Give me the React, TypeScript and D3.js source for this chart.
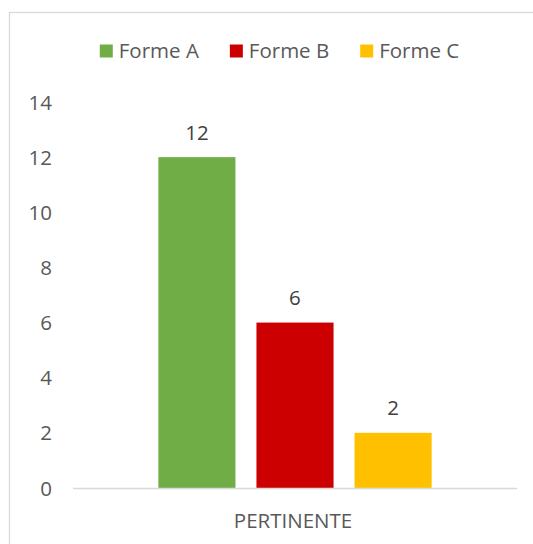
import React, { useMemo } from "react";
import * as d3 from "d3";

const categories = ["PERTINENTE"];
const seriesNames = ["Forme A", "Forme B", "Forme C"];
const seriesValues = [[12], [6], [2]];
const seriesColors = ["#70AD47", "#CC0000", "#FFC000"];
const yTicks = [0, 2, 4, 6, 8, 10, 12, 14];

const W = 533;
const H = 544;
const FONT = "'Open Sans', 'Noto Sans', sans-serif";
const FS = 20.5;

function measure(text: string): number {
  const c = document.createElement("canvas");
  const ctx = c.getContext("2d");
  if (!ctx) return text.length * 11;
  ctx.font = `${FS}px 'Open Sans'`;
  return ctx.measureText(text).width;
}

export default function App() {
  const x0 = d3.scaleBand<string>().domain(categories).range([73, 517]).padding(0.238);
  const x1 = d3
    .scaleBand<string>()
    .domain(seriesNames)
    .range([0, x0.bandwidth()])
    .paddingInner(0.214)
    .paddingOuter(0);
  const y = d3.scaleLinear().domain([0, 14]).range([488, 102]);

  const legend = useMemo(() => {
    const sq = 13;
    const gapText = 6;
    const gapItem = 31;
    const widths = seriesNames.map((s) => measure(s));
    const total =
      widths.reduce((a, w) => a + sq + gapText + w, 0) + gapItem * (seriesNames.length - 1);
    let x = 279.5 - total / 2;
    return seriesNames.map((s, i) => {
      const item = { name: s, x, color: seriesColors[i] };
      x += sq + gapText + widths[i] + gapItem;
      return item;
    });
  }, []);

  return (
    <svg
      width={W}
      height={H}
      style={{ position: "absolute", left: 0, top: 0, background: "#fff" }}
      fontFamily={FONT}
    >
      <rect x={9.5} y={12.5} width={600} height={600} fill="#fff" stroke="#d9d9d9" strokeWidth={1.3} />
      {legend.map((l) => (
        <g key={l.name}>
          <rect x={l.x} y={44.5} width={13} height={13} fill={l.color} />
          <text x={l.x + 19} y={58} fontSize={FS} fill="#595959">
            {l.name}
          </text>
        </g>
      ))}
      {yTicks.map((t) => (
        <text key={t} x={52} y={y(t) + 7.5} textAnchor="end" fontSize={FS} fill="#595959">
          {t}
        </text>
      ))}
      {categories.map((c, ci) => (
        <g key={c} transform={`translate(${x0(c)},0)`}>
          {seriesNames.map((s, si) => {
            const v = seriesValues[si][ci];
            const bx = x1(s) as number;
            return (
              <g key={s}>
                <rect x={bx} y={y(v)} width={x1.bandwidth()} height={y(0) - y(v)} fill={seriesColors[si]} />
                <text
                  x={bx + x1.bandwidth() / 2}
                  y={y(v) - 17.5}
                  textAnchor="middle"
                  fontSize={FS}
                  fill="#404040"
                >
                  {v}
                </text>
              </g>
            );
          })}
        </g>
      ))}
      <line x1={73} x2={517} y1={488.5} y2={488.5} stroke="#d9d9d9" strokeWidth={1.3} />
      {categories.map((c) => (
        <text
          key={c}
          x={(x0(c) as number) + x0.bandwidth() / 2 - 2}
          y={527.5}
          textAnchor="middle"
          fontSize={FS}
          fill="#595959"
        >
          {c}
        </text>
      ))}
    </svg>
  );
}
